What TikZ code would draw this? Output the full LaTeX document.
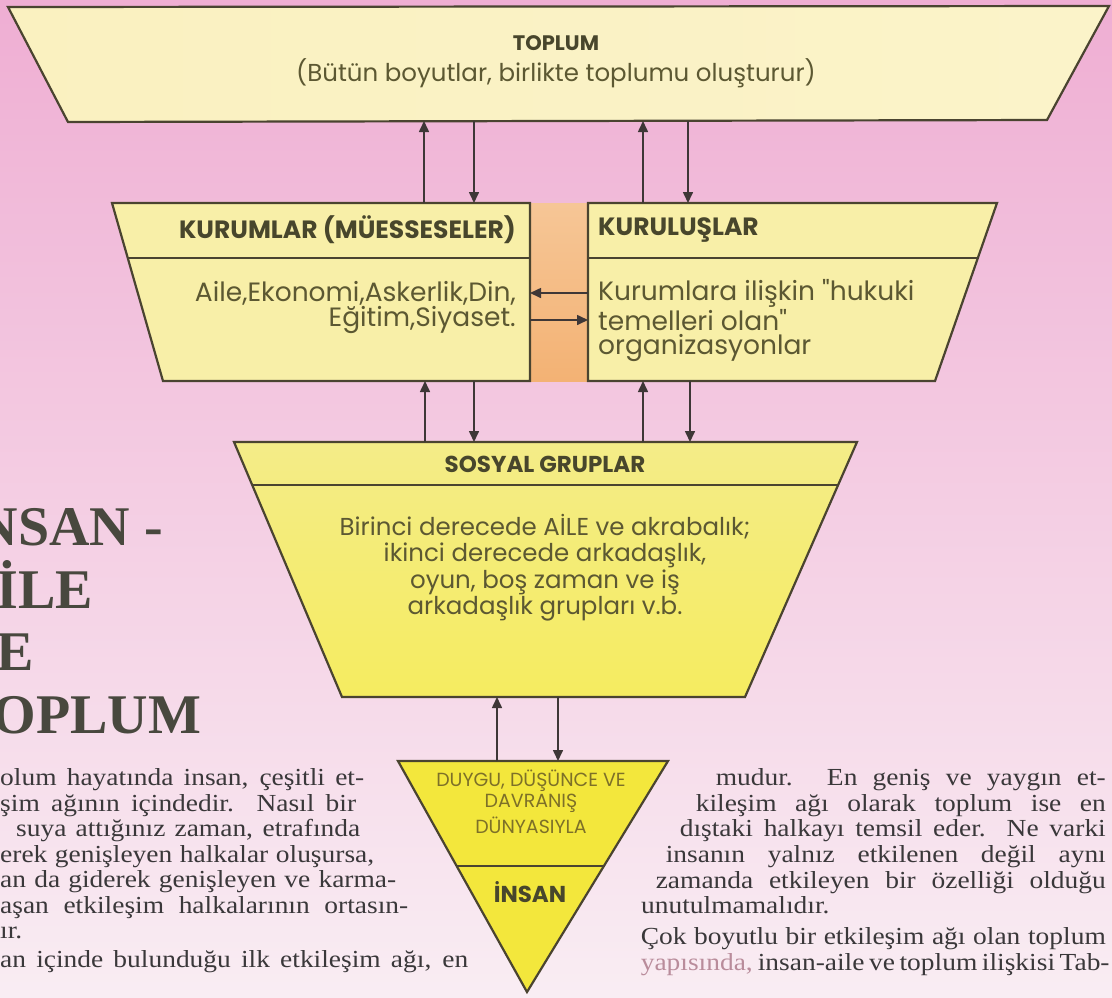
\documentclass[tikz,border=0pt]{standalone}
\usepackage{fontspec}
\setmainfont{Liberation Serif}
\newfontfamily\dsans{Poppins}
\newfontfamily\bodyf[FakeStretch=1.12]{Liberation Serif}
\usetikzlibrary{arrows.meta}
\definecolor{bgtop}{RGB}{239,174,211}
\definecolor{bgmid}{RGB}{244,204,226}
\definecolor{bgbot}{RGB}{249,237,243}
\definecolor{edge}{RGB}{74,68,48}
\definecolor{arrc}{RGB}{62,55,55}
\definecolor{hdrc}{RGB}{72,70,44}
\definecolor{txtc}{RGB}{92,88,50}
\definecolor{capc}{RGB}{125,112,40}
\definecolor{fillA}{RGB}{250,241,192}
\definecolor{fillB}{RGB}{248,239,168}
\definecolor{fillC}{RGB}{245,236,96}
\definecolor{fillCt}{RGB}{244,236,136}
\definecolor{fillD}{RGB}{243,231,60}
\definecolor{orng}{RGB}{243,178,116}
\definecolor{orngt}{RGB}{246,198,150}
\definecolor{titc}{RGB}{72,72,62}
\definecolor{bodyc}{RGB}{58,56,58}
\definecolor{fadec}{RGB}{185,140,155}
\tikzset{
  boxline/.style={draw=edge, line width=2.2pt, line join=miter},
  sepline/.style={draw=edge, line width=2.2pt},
  arr/.style={draw=arrc, line width=1.6pt, -{Triangle[length=11pt,width=10pt]}},
  anchorbox/.style={inner sep=0pt, outer sep=0pt, draw=none},
  hdr/.style={inner sep=0pt, text=hdrc, font=\dsans\bfseries\fontsize{23}{26}\selectfont},
  bhdr/.style={inner sep=0pt, text=hdrc, font=\dsans\bfseries\fontsize{25}{28}\selectfont},
  dtxt/.style={inner sep=0pt, text=txtc, font=\dsans\fontsize{24.5}{27}\selectfont},
  btxt/.style={inner sep=0pt, text=txtc, font=\dsans\fontsize{26.5}{28}\selectfont},
  captxt/.style={inner sep=0pt, text=capc, font=\dsans\fontsize{19}{21}\selectfont},
  ttl/.style={inner sep=0pt, anchor=base west, text=titc, font=\bfseries\fontsize{56}{60}\selectfont},
  body/.style={inner sep=0pt, text=bodyc, font=\bodyf\fontsize{24.5}{26}\selectfont},
}
\begin{document}
\begin{tikzpicture}[x=1pt,y=-1pt]
\useasboundingbox (0,0) rectangle (1112,997);
\begin{scope}
\clip (0,0) rectangle (1112,997);
% background
\shade[top color=bgtop, middle color=bgmid, bottom color=bgbot] (0,0) rectangle (1112,997);

% ---------- TOPLUM ----------
\shade[left color=fillA, right color=fillA!85!white, boxline] (8,7) -- (1109,6) -- (1047,120) -- (68,122) -- cycle;
\node[anchorbox, minimum width=979pt, minimum height=114pt] (toplumB) at (557.5,64) {};
\node[hdr, font=\dsans\bfseries\fontsize{21}{24}\selectfont] (toplumT) at (556,43) {TOPLUM};
\node[dtxt] (toplumS) at (556,73) {(Bütün boyutlar, birlikte toplumu oluşturur)};

% ---------- orange bar ----------
\shade[top color=orngt, bottom color=orng] (530,203) rectangle (588,381);

% ---------- KURUMLAR ----------
\fill[fillB] (112,203) -- (530,203) -- (530,381) -- (163,381) -- cycle;
\draw[boxline] (112,203) -- (530,203) -- (530,381) -- (163,381) -- cycle;
\draw[sepline] (128,258) -- (530,258);
\node[anchorbox, minimum width=418pt, minimum height=178pt] (kurumlarB) at (321,292) {};
\node[bhdr, anchor=east] (kurumlarT) at (516,230) {KURUMLAR (MÜESSESELER)};
\node[btxt, anchor=east] (kurumlarL1) at (516,293) {Aile,Ekonomi,Askerlik,Din,};
\node[btxt, anchor=east] (kurumlarL2) at (516,320) {Eğitim,Siyaset.};

% ---------- KURULUSLAR ----------
\fill[fillB] (588,203) -- (997,203) -- (935,381) -- (588,381) -- cycle;
\draw[boxline] (588,203) -- (997,203) -- (935,381) -- (588,381) -- cycle;
\draw[sepline] (588,258) -- (978,258);
\node[anchorbox, minimum width=409pt, minimum height=178pt] (kuruluslarB) at (792.5,292) {};
\node[bhdr, anchor=west] (kuruluslarT) at (598,230) {KURULUŞLAR};
\node[btxt, anchor=west] (kuruluslarL1) at (598,293) {Kurumlara ilişkin "hukuki};
\node[btxt, anchor=west] (kuruluslarL2) at (598,320) {temelleri olan"};
\node[btxt, anchor=west] (kuruluslarL3) at (598,348) {organizasyonlar};

% ---------- SOSYAL GRUPLAR ----------
\shade[top color=fillCt, bottom color=fillC] (234,442) -- (857,442) -- (745,697) -- (342,697) -- cycle;
\draw[boxline] (234,442) -- (857,442) -- (745,697) -- (342,697) -- cycle;
\draw[sepline] (253,485) -- (838,485);
\node[anchorbox, minimum width=623pt, minimum height=255pt] (sosyalB) at (545.5,569.5) {};
\node[hdr] (sosyalT) at (545,464) {SOSYAL GRUPLAR};
\node[dtxt] (sosyalL1) at (545,527) {Birinci derecede AİLE ve akrabalık;};
\node[dtxt] (sosyalL2) at (545,555) {ikinci derecede arkadaşlık,};
\node[dtxt] (sosyalL3) at (545,582) {oyun, boş zaman ve iş};
\node[dtxt] (sosyalL4) at (545,609) {arkadaşlık grupları v.b.};

% ---------- INSAN ----------
\fill[fillD] (398,761) -- (668,761) -- (527,992) -- cycle;
\draw[boxline] (398,761) -- (668,761) -- (527,992) -- cycle;
\draw[sepline] (456,866) -- (604,866);
\node[anchorbox, minimum width=270pt, minimum height=231pt] (insanB) at (533,876.5) {};
\node[captxt] (insanL1) at (531,781) {DUYGU, DÜŞÜNCE VE};
\node[captxt] (insanL2) at (531,803) {DAVRANIŞ};
\node[captxt] (insanL3) at (531,825) {DÜNYASIYLA};
\node[hdr] (insanT) at (530,892) {İNSAN};

% ---------- arrows ----------
\draw[arr] (424,0 |- kurumlarB.north) -- (424,0 |- toplumB.south);
\draw[arr] (474,0 |- toplumB.south) -- (474,0 |- kurumlarB.north);
\draw[arr] (643,0 |- kuruluslarB.north) -- (643,0 |- toplumB.south);
\draw[arr] (688,0 |- toplumB.south) -- (688,0 |- kuruluslarB.north);
\draw[arr] (425,0 |- sosyalB.north) -- (425,0 |- kurumlarB.south);
\draw[arr] (474,0 |- kurumlarB.south) -- (474,0 |- sosyalB.north);
\draw[arr] (643,0 |- sosyalB.north) -- (643,0 |- kuruluslarB.south);
\draw[arr] (690,0 |- kuruluslarB.south) -- (690,0 |- sosyalB.north);
\draw[arr] (497,0 |- insanB.north) -- (497,0 |- sosyalB.south);
\draw[arr] (558,0 |- sosyalB.south) -- (558,0 |- insanB.north);
\draw[arr] (kuruluslarB.west |- 0,293) -- (kurumlarB.east |- 0,293);
\draw[arr] (kurumlarB.east |- 0,320) -- (kuruluslarB.west |- 0,320);

% ---------- title ----------
\node[ttl] (title1) at (-44,545) {İNSAN -};
\node[ttl] (title2) at (-44,608) {AİLE};
\node[ttl] (title3) at (-44,670) {VE};
\node[ttl] (title4) at (-44,733) {TOPLUM};

% ---------- body text left ----------
\node[body, anchor=base west] (lt1) at (0,785) {\makebox[364pt][s]{olum hayatında insan, çeşitli et-}};
\node[body, anchor=base west] (lt2) at (0,811) {\makebox[356pt][s]{şim ağının içindedir. Nasıl bir}};
\node[body, anchor=base west] (lt3) at (16,836) {\makebox[344pt][s]{suya attığınız zaman, etrafında}};
\node[body, anchor=base west] (lt4) at (0,862) {\makebox[374pt][s]{erek genişleyen halkalar oluşursa,}};
\node[body, anchor=base west] (lt5) at (0,887) {\makebox[396pt][s]{an da giderek genişleyen ve karma-}};
\node[body, anchor=base west] (lt6) at (0,913) {\makebox[408pt][s]{aşan etkileşim halkalarının ortasın-}};
\node[body, anchor=base west] (lt7) at (0,938) {ır.};
\node[body, anchor=base west] (lt8) at (0,967) {\makebox[468pt][s]{an içinde bulunduğu ilk etkileşim ağı, en}};

% ---------- body text right ----------
\node[body, anchor=base east] (rt1) at (1106,785) {\makebox[390pt][s]{mudur. En geniş ve yaygın et-}};
\node[body, anchor=base east] (rt2) at (1106,811) {\makebox[410pt][s]{kileşim ağı olarak toplum ise en}};
\node[body, anchor=base east] (rt3) at (1106,836) {\makebox[426pt][s]{dıştaki halkayı temsil eder. Ne varki}};
\node[body, anchor=base east] (rt4) at (1106,862) {\makebox[440pt][s]{insanın yalnız etkilenen değil aynı}};
\node[body, anchor=base east] (rt5) at (1106,888) {\makebox[450pt][s]{zamanda etkileyen bir özelliği olduğu}};
\node[body, anchor=base west] (rt6) at (641,913) {unutulmamalıdır.};
\node[body, anchor=base east] (rt7) at (1106,944) {\makebox[465pt][s]{Çok boyutlu bir etkileşim ağı olan toplum}};
\node[body, anchor=base east] (rt8) at (1106,970) {\makebox[465pt][s]{{\color{fadec}yapısında,} insan-aile ve toplum ilişkisi Tab-}};
\end{scope}
\end{tikzpicture}
\end{document}
